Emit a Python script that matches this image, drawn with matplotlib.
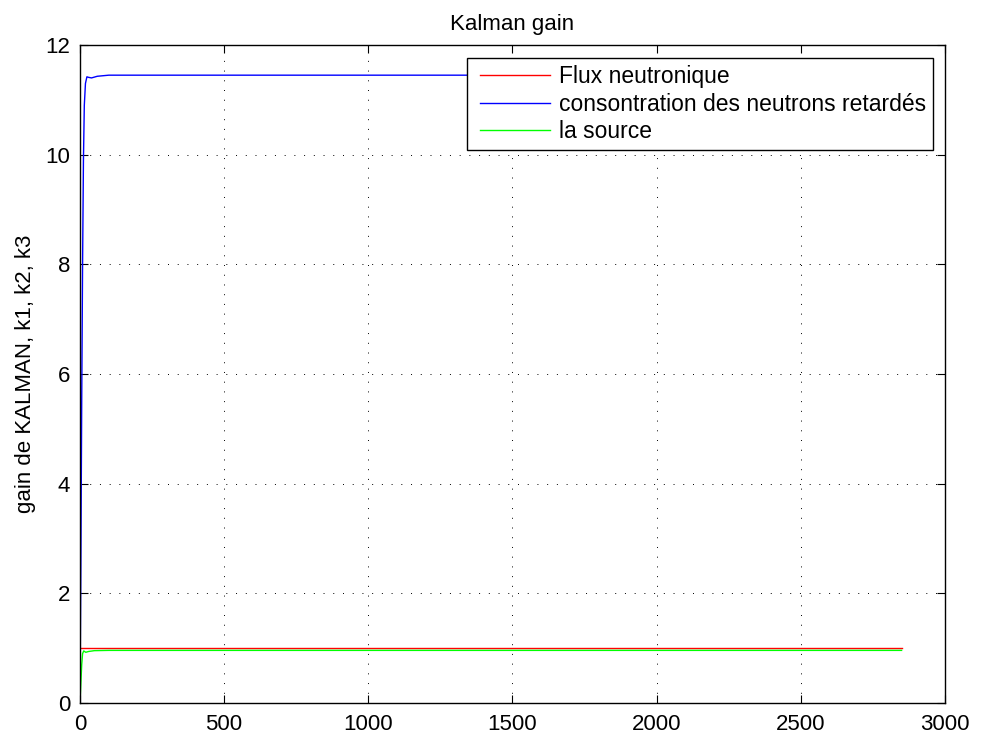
import matplotlib
matplotlib.use("Agg")
import matplotlib.pyplot as plt
from matplotlib.legend_handler import HandlerLine2D

plt.rcParams["font.family"] = ["Liberation Sans", "DejaVu Sans"]

# ============================================================
# DATA
# ============================================================

flux_x = [0, 2850]
flux_y = [1.0, 1.0]

conc_x = [0, 3, 6, 9, 12, 15, 19, 24, 30, 40, 60, 100, 2850]
conc_y = [0.0, 2.5, 5.5, 8.0, 9.9, 10.9, 11.3, 11.42, 11.41, 11.40, 11.43, 11.45, 11.45]

src_x = [0, 3, 6, 9, 13, 20, 30, 50, 100, 2850]
src_y = [0.0, 0.35, 0.7, 0.9, 0.95, 0.925, 0.94, 0.955, 0.96, 0.96]

labels = ["Flux neutronique", "consontration des neutrons retardés", "la source"]
colors = ["#ff0000", "#0000ff", "#00ff00"]

xticks = [0, 500, 1000, 1500, 2000, 2500, 3000]
yticks = [0, 2, 4, 6, 8, 10, 12]


# MATLAB-style legend line: inset a little from the left edge of the box
class InsetLine(HandlerLine2D):
    def get_xdata(self, legend, xdescent, ydescent, width, height, fontsize):
        inset = 0.09 * width
        xdata = [-xdescent + inset, -xdescent + width]
        return xdata, xdata


# ============================================================
# PLOT
# ============================================================

fig = plt.figure(figsize=(9.85, 7.38), dpi=100)
ax = fig.add_axes([0.0812, 0.0474, 0.878, 0.8916])

ax.plot(flux_x, flux_y, color=colors[0], lw=1.0, label=labels[0])
ax.plot(conc_x, conc_y, color=colors[1], lw=1.0, label=labels[1])
ax.plot(src_x, src_y, color=colors[2], lw=1.0, label=labels[2])

ax.set_xlim(0, 3000)
ax.set_ylim(0, 12)
ax.set_xticks(xticks)
ax.set_yticks(yticks)
ax.tick_params(direction="in", length=6, labelsize=16, top=True, right=True)
ax.tick_params(axis="x", pad=8)
ax.tick_params(axis="y", pad=7)
ax.grid(True, color="black", linestyle=(0, (1, 9)), linewidth=0.7)
for s in ax.spines.values():
    s.set_linewidth(1.0)

ax.set_ylabel("gain de KALMAN, k1, k2, k3", fontsize=16, labelpad=7)
ax.set_title("Kalman gain", fontsize=16, pad=11)

leg = ax.legend(loc="upper right", bbox_to_anchor=(0.986, 0.98), fontsize=16.5,
                frameon=True, fancybox=False, edgecolor="black", framealpha=1,
                handlelength=3.32, borderpad=0.3, labelspacing=0.2, handletextpad=0.4,
                borderaxespad=0, handler_map={plt.Line2D: InsetLine()})
leg.get_frame().set_linewidth(1.0)

plt.savefig("out.png", dpi=100)
plt.close()
